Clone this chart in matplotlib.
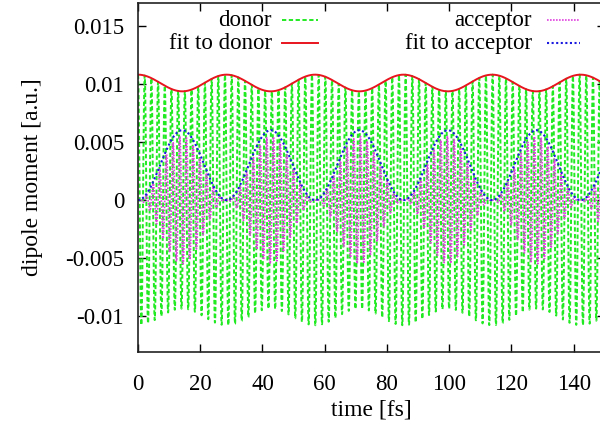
import numpy as np
import matplotlib.pyplot as plt

plt.rcParams["font.family"] = ["Liberation Serif", "DejaVu Serif"]

# parameters
beat_period = 28.45          # fs, period of the donor/acceptor energy exchange
carrier_period = 2.15        # fs, fast dipole oscillation
donor_mean = 0.0101          # mean donor envelope
donor_swing = 0.00072        # half peak-to-peak of donor envelope
acceptor_peak = 0.0055       # max amplitude of acceptor oscillation
acceptor_fit_peak = 0.00603  # max of fitted acceptor envelope

x_ticks = [0, 20, 40, 60, 80, 100, 120, 140]
y_ticks = [-0.01, -0.005, 0, 0.005, 0.01, 0.015]
y_tick_labels = ["-0.01", "-0.005", "0", "0.005", "0.01", "0.015"]

t = np.arange(0, 150.01, 0.05)
beat = 2 * np.pi * t / beat_period
carrier = np.cos(2 * np.pi * t / carrier_period)

donor_fit = donor_mean + donor_swing * np.cos(beat)
donor = donor_fit * carrier
acceptor_fit = acceptor_fit_peak * 0.5 * (1 - np.cos(beat))
acceptor = acceptor_peak * 0.5 * (1 - np.cos(beat)) * np.sin(2 * np.pi * t / carrier_period)

green = "#22ea22"
red = "#e8141e"
magenta = "#e040e0"
blue = "#1a1ae0"

fig = plt.figure(figsize=(6.0, 4.28), dpi=100)
ax = fig.add_axes([0.23, 0.1776, 0.778, 0.8154])

ax.plot(t, donor, color=green, lw=1.4, dashes=(2.2, 1.3))
ax.plot(t, donor_fit, color=red, lw=1.4)
ax.plot(t, acceptor, color=magenta, lw=1.2, dashes=(1.0, 0.8))
ax.plot(t, acceptor_fit, color=blue, lw=1.5, dashes=(1.0, 1.2))

ax.set_xlim(0, 150)
ax.set_ylim(-0.0131, 0.017)
ax.set_xticks(x_ticks)
ax.set_yticks(y_ticks)
ax.set_yticklabels(y_tick_labels)
ax.tick_params(direction="in", length=6, width=1, top=True, right=True,
               labelsize=16.5)
ax.tick_params(axis="x", pad=16)
ax.tick_params(axis="y", pad=10)
for s in ax.spines.values():
    s.set_linewidth(1.2)
    s.set_color("#222222")

ax.set_xlabel("time [fs]", fontsize=17, labelpad=3)
ax.set_ylabel("dipole moment [a.u.]", fontsize=17, labelpad=16)

# legend drawn gnuplot-style: text then sample
leg = [
    ("donor", 0.287, 0.308, 0.385, 0.951, dict(color=green, lw=1.4, dashes=(2.2, 1.3))),
    ("fit to donor", 0.287, 0.308, 0.385, 0.885, dict(color=red, lw=1.4)),
    ("acceptor", 0.844, 0.876, 0.946, 0.951, dict(color=magenta, lw=1.2, dashes=(1.0, 0.8))),
    ("fit to acceptor", 0.844, 0.876, 0.946, 0.885, dict(color=blue, lw=1.5, dashes=(1.0, 1.2))),
]
for label, xt, x0, x1, yy, style in leg:
    ax.text(xt, yy, label, transform=ax.transAxes, ha="right", va="center", fontsize=16.5)
    ax.plot([x0, x1], [yy, yy], transform=ax.transAxes, clip_on=False, **style)

fig.savefig("out.png", dpi=100)
